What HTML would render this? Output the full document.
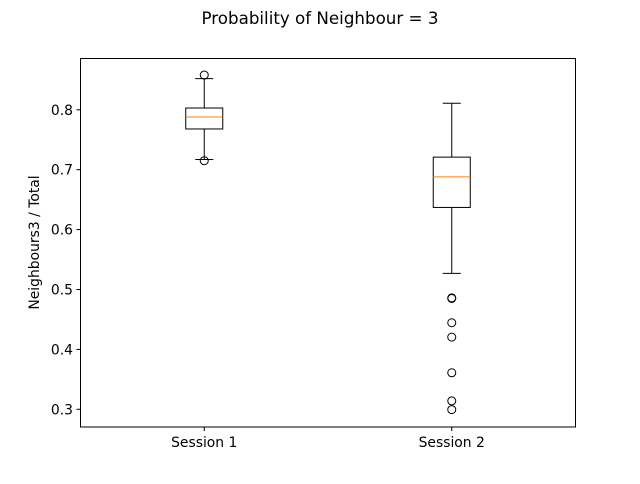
<!DOCTYPE html>
<html><head><meta charset="utf-8"><style>
body{margin:0;background:#fff;font-family:"DejaVu Sans","Liberation Sans",sans-serif}
svg text{font-family:"DejaVu Sans","Liberation Sans",sans-serif}
</style></head><body>
<svg id="chart" width="640" height="480" xmlns="http://www.w3.org/2000/svg">
<rect width="640" height="480" fill="#fff"/>
<text x="320" y="24" font-size="16.7" text-anchor="middle">Probability of Neighbour = 3</text>
<text transform="translate(39,242.5) rotate(-90)" font-size="13.9" text-anchor="middle">Neighbours3 / Total</text>
<g id="plot"></g>
<rect x="80.5" y="58.5" width="495" height="368.5" fill="none" stroke="#000" stroke-width="1"/>
</svg>
<script>
const categories = ["Session 1", "Session 2"];
const whiskerLow = [0.717, 0.527];
const q1 = [0.768, 0.637];
const medians = [0.788, 0.688];
const q3 = [0.803, 0.721];
const whiskerHigh = [0.852, 0.811];
const fliers = [[0.858, 0.715], [0.486, 0.485, 0.4445, 0.4205, 0.361, 0.314, 0.2995]];
const yTicks = [0.3, 0.4, 0.5, 0.6, 0.7, 0.8];

const NS = "http://www.w3.org/2000/svg";
const y = v => 409.3 - (v - 0.3) * 599;
const x = i => 80.5 + 495 * (0.5 + i) / 2;
const g = document.getElementById('plot');
function mk(tag, attrs, parent) {
  const e = document.createElementNS(NS, tag);
  for (const k in attrs) e.setAttribute(k, attrs[k]);
  (parent || g).appendChild(e);
  return e;
}
yTicks.forEach(t => {
  const l = mk('line', {x1: 76.5, x2: 80.5, y1: y(t), y2: y(t), stroke: '#000'});
  
  
  const tx = mk('text', {x: 73, y: y(t) + 5, 'font-size': 13.9, 'text-anchor': 'end'});
  tx.textContent = t.toFixed(1);
  
  
});
categories.forEach((c, i) => {
  const cx = x(i);
  const l = mk('line', {x1: cx, x2: cx, y1: 427, y2: 431, stroke: '#000'});
  
  
  const tx = mk('text', {x: cx, y: 447, 'font-size': 13.9, 'text-anchor': 'middle'});
  tx.textContent = c;
  
  
  const bg = mk('g', {});
  
  
  const hw = 18.5, cw = 9;
  mk('line', {x1: cx, x2: cx, y1: y(q3[i]), y2: y(whiskerHigh[i]), stroke: '#000'}, bg);
  mk('line', {x1: cx, x2: cx, y1: y(q1[i]), y2: y(whiskerLow[i]), stroke: '#000'}, bg);
  mk('line', {x1: cx - cw, x2: cx + cw, y1: y(whiskerHigh[i]), y2: y(whiskerHigh[i]), stroke: '#000'}, bg);
  mk('line', {x1: cx - cw, x2: cx + cw, y1: y(whiskerLow[i]), y2: y(whiskerLow[i]), stroke: '#000'}, bg);
  mk('rect', {x: cx - hw, y: y(q3[i]), width: 2 * hw, height: y(q1[i]) - y(q3[i]), fill: 'none', stroke: '#000'}, bg);
  mk('line', {x1: cx - hw, x2: cx + hw, y1: y(medians[i]), y2: y(medians[i]), stroke: '#ff7f0e'}, bg);
  fliers[i].forEach(v => {
    const f = mk('circle', {cx: cx, cy: y(v), r: 4, fill: 'none', stroke: '#000'}, bg);
    
    
  });
});
</script>
</body></html>
